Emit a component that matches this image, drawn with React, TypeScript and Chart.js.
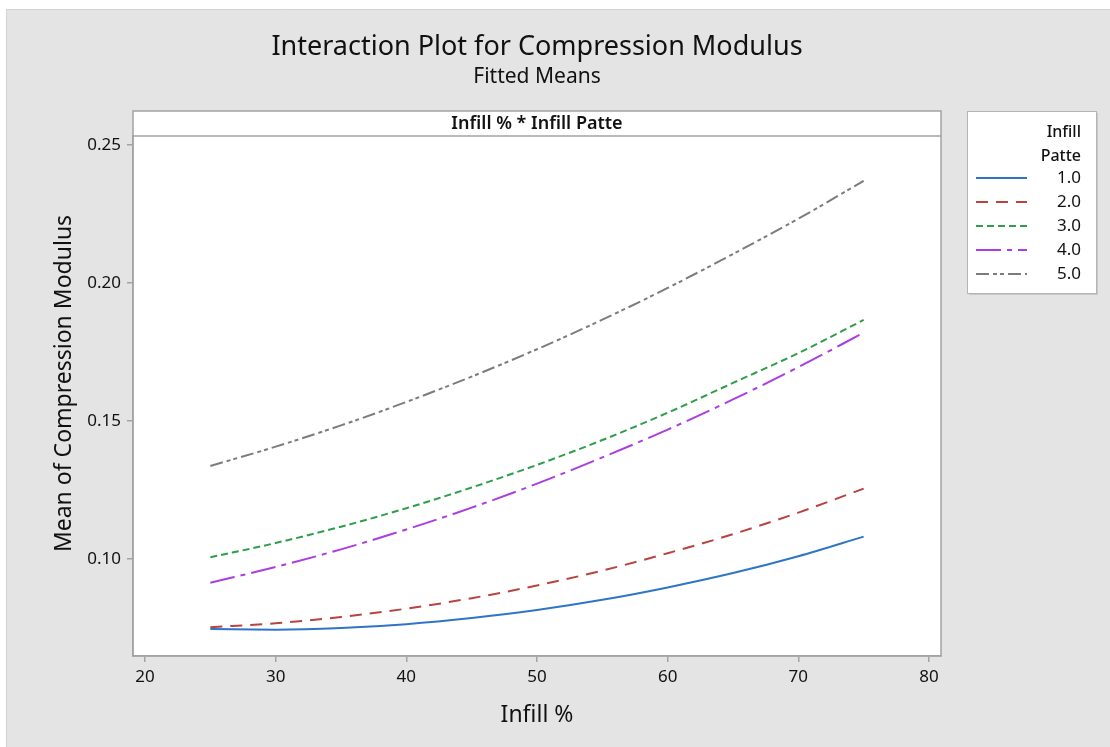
import React, { useEffect, useRef } from 'react';
import { Chart, registerables } from 'chart.js';

Chart.register(...registerables);

// ---- Data ----
const infillPct = [25, 30, 35, 40, 45, 50, 55, 60, 65, 70, 75];
const pattern1 = [0.0746, 0.0744, 0.0750, 0.0764, 0.0786, 0.0815, 0.0852, 0.0897, 0.0949, 0.1010, 0.1081];
const pattern2 = [0.0753, 0.0767, 0.0790, 0.0820, 0.0858, 0.0904, 0.0958, 0.1021, 0.1090, 0.1168, 0.1255];
const pattern3 = [0.1006, 0.1058, 0.1117, 0.1184, 0.1259, 0.1341, 0.1431, 0.1530, 0.1638, 0.1746, 0.1866];
const pattern4 = [0.0914, 0.0971, 0.1035, 0.1107, 0.1186, 0.1273, 0.1368, 0.1469, 0.1578, 0.1695, 0.1820];
const pattern5 = [0.1337, 0.1407, 0.1484, 0.1569, 0.1661, 0.1760, 0.1867, 0.1982, 0.2105, 0.2233, 0.2370];
const patternLabels = ['1.0', '2.0', '3.0', '4.0', '5.0'];
const xTickValues = [20, 30, 40, 50, 60, 70, 80];
const yTickValues = [0.10, 0.15, 0.20, 0.25];

const titleText = 'Interaction Plot for Compression Modulus';
const subtitleText = 'Fitted Means';
const stripText = 'Infill % * Infill Patte';
const xAxisTitle = 'Infill %';
const yAxisTitle = 'Mean of Compression Modulus';
const legendTitle = ['Infill', 'Patte'];

const seriesValues = [pattern1, pattern2, pattern3, pattern4, pattern5];
const seriesColors = ['#2e75c8', '#b8433f', '#2f9e4a', '#aa3ee0', '#7c7c7c'];
const seriesDashes: number[][] = [[], [12, 8], [7, 4], [25, 6, 5, 6], [13, 4, 4, 3, 4, 4]];

const FONT = '"Noto Sans", "Open Sans", sans-serif';
const TEXT = '#111111';
const FRAME = '#a3a3a3';

const decorPlugin = {
  id: 'decor',
  beforeDraw(chart: any) {
    const { ctx, chartArea } = chart;
    const W = chart.width;
    const H = chart.height;
    ctx.save();
    ctx.fillStyle = '#ffffff';
    ctx.fillRect(0, 0, W, H);
    ctx.fillStyle = '#e4e4e4';
    ctx.fillRect(6, 9, W - 6, H - 9);
    ctx.strokeStyle = '#d2d2d2';
    ctx.lineWidth = 1;
    ctx.beginPath();
    ctx.moveTo(6.5, H);
    ctx.lineTo(6.5, 9.5);
    ctx.lineTo(W, 9.5);
    ctx.stroke();
    // plot panel incl. strip
    ctx.fillStyle = '#ffffff';
    ctx.fillRect(chartArea.left, chartArea.top - 25, chartArea.right - chartArea.left, chartArea.bottom - chartArea.top + 25);
    ctx.restore();
  },
  afterDraw(chart: any) {
    const { ctx, chartArea } = chart;
    const l = chartArea.left, r = chartArea.right, t = chartArea.top, b = chartArea.bottom;
    const cx = (l + r) / 2;
    ctx.save();
    // frame
    ctx.strokeStyle = FRAME;
    ctx.lineWidth = 1.5;
    ctx.strokeRect(l, t - 25, r - l, b - t + 25);
    ctx.beginPath();
    ctx.moveTo(l, t);
    ctx.lineTo(r, t);
    ctx.stroke();
    // strip text
    ctx.fillStyle = TEXT;
    ctx.textAlign = 'center';
    ctx.textBaseline = 'middle';
    ctx.font = `600 18px ${FONT}`;
    ctx.fillText(stripText, cx, t - 12);
    // titles
    ctx.font = `27px ${FONT}`;
    ctx.fillText(titleText, cx, 47);
    ctx.font = `21px ${FONT}`;
    ctx.fillText(subtitleText, cx, 77);
    // axis titles
    ctx.font = `23px ${FONT}`;
    ctx.fillText(xAxisTitle, cx, 715);
    ctx.save();
    ctx.translate(64, (t - 25 + b) / 2);
    ctx.rotate(-Math.PI / 2);
    ctx.fillText(yAxisTitle, 0, 0);
    ctx.restore();

    // legend
    const lx = 967, ly = 111, lw = 129, lh = 182;
    ctx.fillStyle = '#c8c8c8';
    ctx.fillRect(lx + 2, ly + 2, lw, lh);
    ctx.fillStyle = '#ffffff';
    ctx.fillRect(lx, ly, lw, lh);
    ctx.strokeStyle = '#b4b4b4';
    ctx.lineWidth = 1;
    ctx.strokeRect(lx + 0.5, ly + 0.5, lw, lh);
    ctx.fillStyle = TEXT;
    ctx.textAlign = 'right';
    ctx.font = `500 16px ${FONT}`;
    ctx.fillText(legendTitle[0], 1081, 132);
    ctx.fillText(legendTitle[1], 1081, 156);
    ctx.font = `17px ${FONT}`;
    patternLabels.forEach((lab, i) => {
      const y = 178 + i * 24;
      ctx.strokeStyle = seriesColors[i];
      ctx.lineWidth = 2;
      ctx.setLineDash(seriesDashes[i]);
      ctx.beginPath();
      ctx.moveTo(976, y);
      ctx.lineTo(1027, y);
      ctx.stroke();
      ctx.setLineDash([]);
      ctx.fillStyle = TEXT;
      ctx.fillText(lab, 1081, y);
    });
    ctx.restore();
  },
};

export default function App() {
  const canvasRef = useRef<HTMLCanvasElement | null>(null);

  useEffect(() => {
    if (!canvasRef.current) return;
    const datasets = seriesValues.map((vals, i) => ({
      label: patternLabels[i],
      data: infillPct.map((x, j) => ({ x, y: vals[j] })),
      borderColor: seriesColors[i],
      backgroundColor: seriesColors[i],
      borderWidth: 2,
      borderDash: seriesDashes[i],
      pointRadius: 0,
      cubicInterpolationMode: 'monotone' as const,
      fill: false,
    }));

    const chart = new Chart(canvasRef.current, {
      type: 'line',
      data: { datasets },
      plugins: [decorPlugin],
      options: {
        animation: false,
        responsive: false,
        devicePixelRatio: 1,
        layout: { padding: { left: 0, top: 136, right: 169, bottom: 0 } },
        plugins: {
          legend: { display: false },
          title: { display: false },
          tooltip: { enabled: false },
        },
        scales: {
          x: {
            type: 'linear',
            min: 19.0816,
            max: 80.918,
            afterFit(scale: any) { scale.height = 91; },
            afterBuildTicks(scale: any) { scale.ticks = xTickValues.map((v) => ({ value: v })); },
            grid: { drawOnChartArea: false, drawTicks: true, tickLength: 6, color: FRAME, lineWidth: 1.5 },
            border: { display: true, color: FRAME, width: 1.5 },
            ticks: {
              color: TEXT,
              padding: 5,
              font: { family: FONT, size: 17 },
              maxRotation: 0,
              callback: (v: any) => String(v),
            },
          },
          y: {
            type: 'linear',
            min: 0.064855,
            max: 0.25326,
            afterFit(scale: any) { scale.width = 133; },
            afterBuildTicks(scale: any) { scale.ticks = yTickValues.map((v) => ({ value: v })); },
            grid: { drawOnChartArea: false, drawTicks: true, tickLength: 6, color: FRAME, lineWidth: 1.5 },
            border: { display: true, color: FRAME, width: 1.5 },
            ticks: {
              color: TEXT,
              padding: 6,
              font: { family: FONT, size: 17 },
              callback: (v: any) => Number(v).toFixed(2),
            },
          },
        },
      } as any,
    });
    return () => chart.destroy();
  }, []);

  return (
    <div style={{ position: 'fixed', left: 0, top: 0, width: 1110, height: 747 }}>
      <canvas ref={canvasRef} width={1110} height={747} style={{ width: 1110, height: 747, display: 'block' }} />
    </div>
  );
}
